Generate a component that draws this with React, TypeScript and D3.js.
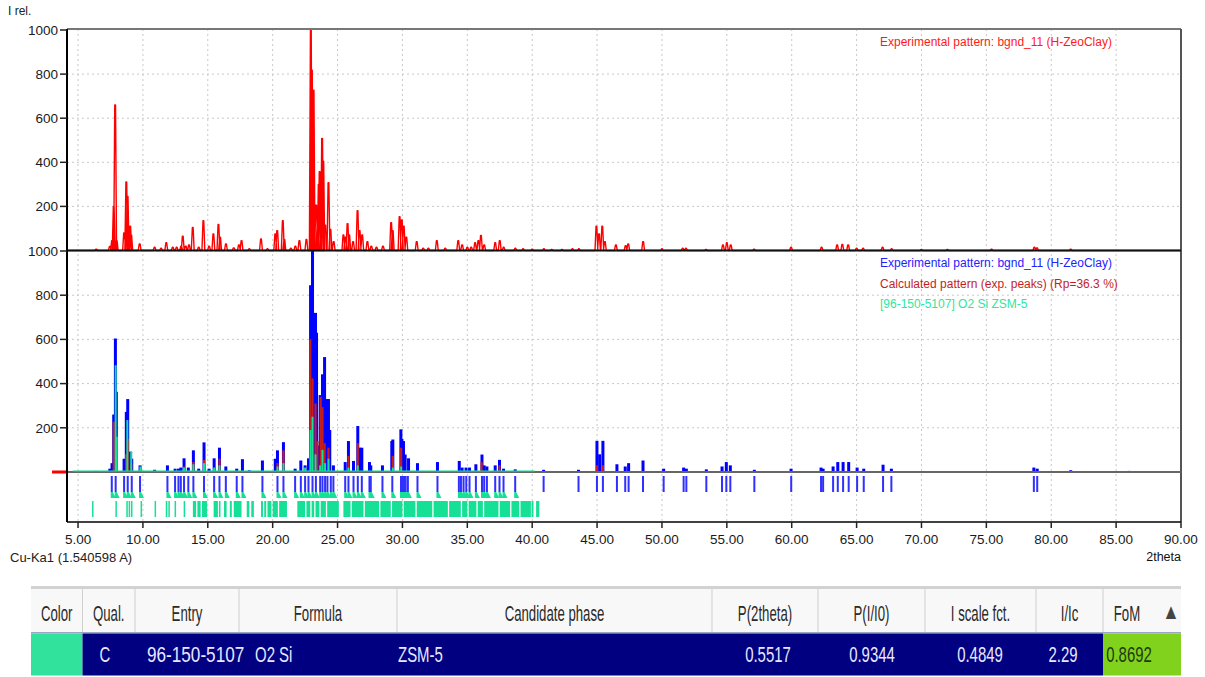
import * as d3 from 'd3';
import { useEffect, useRef } from 'react';

// experimental pattern, top panel [2theta, I rel.]
const expPeaks: [number, number][] = [
  [6.4, 6], [7.45, 18], [7.62, 45], [7.75, 200], [7.86, 660], [7.98, 45],
  [8.55, 80], [8.72, 311], [8.82, 245], [9.02, 110], [9.1, 70], [9.75, 30],
  [10.9, 15], [11.4, 10], [11.8, 35], [12.3, 15], [12.6, 15], [12.95, 20],
  [13.07, 65], [13.3, 20], [13.55, 25], [13.84, 104], [14.3, 15], [14.66, 135],
  [15.1, 20], [15.43, 75], [15.82, 118], [15.95, 60], [16.4, 30], [17.0, 12],
  [17.4, 25], [17.6, 45], [18.2, 8], [19.1, 52], [19.6, 8], [20.2, 75],
  [20.35, 90], [20.78, 135], [20.9, 50], [21.4, 10], [21.75, 20], [22.06, 45],
  [22.6, 50], [22.94, 1000], [23.02, 818], [23.1, 580], [23.15, 727], [23.35, 205],
  [23.45, 110], [23.55, 300], [23.62, 357], [23.81, 508], [23.9, 405], [24.05, 115],
  [24.3, 307], [24.45, 95], [24.7, 40], [25.45, 70], [25.6, 60], [25.77, 122],
  [25.9, 70], [26.2, 40], [26.54, 180], [26.7, 90], [26.9, 70], [27.3, 40],
  [27.6, 20], [28.0, 15], [28.5, 20], [29.13, 126], [29.25, 90], [29.78, 153],
  [29.95, 138], [30.1, 110], [30.3, 60], [31.1, 40], [31.6, 10], [32.0, 10],
  [32.65, 45], [33.3, 10], [34.3, 45], [34.6, 25], [35.0, 15], [35.3, 15],
  [35.6, 35], [35.85, 45], [36.05, 68], [36.3, 25], [37.15, 35], [37.5, 45],
  [37.8, 15], [38.7, 10], [39.3, 8], [40.0, 6], [40.9, 8], [41.5, 5],
  [42.3, 5], [43.1, 8], [43.6, 8], [44.95, 110], [45.15, 75], [45.4, 110],
  [45.6, 40], [46.45, 25], [47.2, 22], [47.4, 30], [48.55, 40], [50.0, 8],
  [51.6, 10], [51.85, 10], [53.4, 5], [54.7, 25], [55.0, 35], [55.3, 25],
  [57.1, 6], [59.95, 15], [62.3, 15], [63.5, 25], [63.9, 28], [64.35, 25],
  [65.0, 10], [65.5, 10], [67.0, 15], [67.7, 8], [70.0, 5], [72.0, 5],
  [75.4, 6], [78.7, 15], [78.9, 12], [81.5, 6],
];

// experimental pattern, bottom panel
const expBottom: [number, number][] = [
  [6.4, 5], [7.45, 15], [7.62, 40], [7.75, 260], [7.88, 604], [7.95, 363],
  [8.55, 60], [8.72, 272], [8.83, 330], [9.05, 92], [9.14, 60], [9.78, 30],
  [10.9, 10], [11.89, 30], [12.48, 15], [12.74, 15], [12.92, 20], [13.17, 62],
  [13.5, 20], [13.89, 98], [14.3, 15], [14.71, 134], [15.1, 15], [15.49, 62],
  [15.9, 110], [16.39, 25], [17.23, 15], [17.67, 58], [18.2, 8], [19.21, 52],
  [20.2, 60], [20.37, 98], [20.83, 135], [21.73, 15], [22.17, 52], [22.5, 30],
  [22.76, 62], [22.92, 845], [23.07, 1000], [23.2, 400], [23.3, 720], [23.38, 630],
  [23.5, 120], [23.66, 348], [23.84, 442], [24.0, 520], [24.1, 140], [24.22, 330],
  [24.3, 330], [24.4, 190], [24.68, 30], [25.59, 45], [25.84, 140], [26.23, 50],
  [26.56, 208], [26.7, 110], [26.87, 110], [27.46, 45], [27.56, 30], [28.46, 30],
  [29.18, 140], [29.26, 147], [29.88, 193], [29.96, 150], [30.08, 140], [30.21, 79],
  [30.47, 62], [31.16, 40], [32.7, 45], [34.38, 50], [34.6, 20], [34.9, 20],
  [35.17, 20], [35.66, 35], [36.13, 79], [36.3, 30], [36.51, 25], [37.15, 30],
  [37.48, 55], [37.79, 15], [38.69, 12], [40.88, 10], [43.57, 10], [44.99, 141],
  [45.2, 80], [45.45, 141], [46.53, 35], [47.17, 25], [47.43, 40], [48.54, 52],
  [50.13, 15], [51.67, 20], [51.88, 15], [53.42, 12], [54.63, 25], [54.96, 45],
  [55.27, 30], [57.12, 10], [59.95, 15], [62.26, 20], [62.42, 15], [63.19, 25],
  [63.55, 45], [63.96, 45], [64.39, 45], [65.04, 20], [65.55, 15], [67.04, 33],
  [67.68, 15], [78.66, 20], [78.92, 15], [81.5, 8], [86.0, 5],
];

// calculated pattern (exp. peaks)
const calcPeaks: [number, number][] = [
  [7.75, 227], [7.95, 40], [8.7, 80], [8.83, 150], [9.1, 35], [13.17, 25],
  [13.89, 45], [14.71, 55], [15.9, 60], [20.37, 40], [20.83, 98], [22.9, 600],
  [23.07, 424], [23.3, 310], [23.45, 140], [23.7, 340], [23.84, 293], [24.0, 130],
  [24.3, 110], [25.84, 73], [26.56, 130], [29.26, 73], [29.9, 110], [36.1, 45],
  [37.48, 30], [45.0, 30], [45.45, 30],
];

// [96-150-5107] O2 Si ZSM-5
const phasePeaks: [number, number][] = [
  [7.9, 483], [7.98, 160], [8.8, 235], [9.1, 92], [9.8, 25], [13.17, 20],
  [13.89, 35], [14.71, 40], [15.49, 20], [15.9, 30], [20.37, 25], [20.83, 40],
  [22.5, 20], [22.92, 190], [23.07, 250], [23.3, 80], [23.66, 30], [23.84, 100],
  [24.04, 40], [24.3, 60], [25.84, 20], [26.56, 30], [29.26, 20], [29.9, 25],
];

// peak positions of the experimental pattern
const peakMarks: number[] = [
  7.6, 7.9, 8.55, 8.83, 9.14, 9.78, 11.89, 12.48, 12.74, 12.92, 13.17, 13.5,
  13.89, 14.71, 15.49, 15.9, 16.39, 17.23, 17.67, 19.21, 20.37, 20.83, 21.73,
  22.17, 22.5, 22.76, 23.07, 23.33, 23.66, 23.84, 24.04, 24.22, 24.48, 24.68,
  25.59, 25.84, 26.23, 26.56, 26.87, 27.46, 27.56, 28.46, 29.22, 29.89, 30.01,
  30.12, 30.25, 30.42, 31.16, 32.7, 34.35, 34.51, 34.71, 34.92, 35.17, 35.66,
  36.13, 36.3, 36.51, 37.15, 37.48, 37.79, 38.69, 40.88, 43.57, 44.99, 45.45,
  46.53, 47.17, 47.43, 48.54, 50.13, 51.67, 51.88, 53.42, 54.63, 54.96, 55.27,
  57.12, 59.96, 62.26, 62.42, 63.19, 63.55, 63.96, 64.39, 65.04, 65.55, 67.04,
  67.68, 78.66, 78.92,
];

// reference lines of ZSM-5, read as blocks [from, to]
const refBands: [number, number][] = [
  [6.08, 6.18], [7.88, 7.98], [8.72, 8.8], [8.9, 9.0], [9.08, 9.16], [9.82, 9.9],
  [10.9, 10.98], [11.76, 11.84], [11.96, 12.06], [12.44, 12.52], [13.14, 13.22],
  [13.85, 14.1], [14.2, 14.45], [14.55, 14.95], [15.45, 15.78], [15.86, 15.98],
  [16.25, 16.45], [16.7, 16.85], [17.0, 17.6], [18.0, 18.2], [18.35, 18.55],
  [19.1, 19.25], [19.35, 19.5], [19.6, 19.9], [20.0, 20.4], [20.5, 21.1],
  [21.9, 22.5], [22.6, 22.9], [23.0, 23.2], [23.3, 23.6], [23.7, 24.1],
  [24.2, 25.1], [25.45, 26.0], [26.1, 27.0], [27.1, 28.2], [28.3, 29.1],
  [29.2, 30.0], [30.1, 31.0], [31.1, 32.3], [32.4, 33.5], [33.6, 34.5],
  [34.6, 35.0], [35.1, 35.7], [35.8, 36.2], [36.3, 37.4], [37.5, 38.3],
  [38.4, 39.0], [39.1, 39.9], [39.95, 40.1], [40.3, 40.55],
];

const xTicks = [5, 10, 15, 20, 25, 30, 35, 40, 45, 50, 55, 60, 65, 70, 75, 80, 85, 90];
const yTicks = [200, 400, 600, 800, 1000];

const legendTop = ['Experimental pattern: bgnd_11 (H-ZeoClay)'];
const legendBottom = [
  'Experimental pattern: bgnd_11 (H-ZeoClay)',
  'Calculated pattern (exp. peaks) (Rp=36.3 %)',
  '[96-150-5107] O2 Si ZSM-5',
];

const tableHeaders = ['Color', 'Qual.', 'Entry', 'Formula', 'Candidate phase', 'P(2theta)', 'P(I/I0)', 'I scale fct.', 'I/Ic', 'FoM'];
const tableRow = ['', 'C', '96-150-5107', 'O2 Si', 'ZSM-5', '0.5517', '0.9344', '0.4849', '2.29', '0.8692'];

const width = 1205;
const height = 677;
const RED = '#ff0000';
const BLUE = '#0000ff';
const CALC = '#c41e1e';
const GREEN = '#16e096';

export default function App() {
  const ref = useRef<HTMLDivElement>(null);

  useEffect(() => {
    if (!ref.current) return;

    const svg = d3
      .create('svg')
      .attr('width', width)
      .attr('height', height)
      .style('position', 'absolute')
      .style('left', '0')
      .style('top', '0')
      .style('font-family', 'Liberation Sans, Arial, sans-serif');

    svg.append('rect').attr('width', width).attr('height', height).attr('fill', '#fff');

    const left = 67;
    const right = 1181;
    const x = d3.scaleLinear().domain([4.15, 90]).range([left, right]);
    const yTop = d3.scaleLinear().domain([0, 1000]).range([250.5, 30]);
    const yBot = d3.scaleLinear().domain([0, 1000]).range([472, 251]);
    const axisY = 522;

    // grid
    const grid = svg.append('g').attr('stroke', '#c8c8c8').attr('stroke-dasharray', '2 3');
    grid
      .selectAll('line.v')
      .data(xTicks.filter((t) => t < 90))
      .join('line')
      .attr('x1', (d) => x(d))
      .attr('x2', (d) => x(d))
      .attr('y1', 29)
      .attr('y2', axisY);
    [yTop, yBot].forEach((y) => {
      grid
        .append('g')
        .selectAll('line')
        .data(yTicks.filter((t) => t < 1000))
        .join('line')
        .attr('x1', left)
        .attr('x2', right)
        .attr('y1', (d) => y(d))
        .attr('y2', (d) => y(d));
    });

    // top panel profile: each peak drawn as a narrow spike
    const spikes = (peaks: [number, number][]) => {
      const pts: [number, number][] = [[4.15, 0]];
      [...peaks].sort((a, b) => a[0] - b[0]).forEach(([p, v]) => {
        pts.push([p - 0.11, 0], [p - 0.03, v], [p + 0.03, v], [p + 0.11, 0]);
      });
      pts.push([90, 0]);
      return pts;
    };
    const lineTop = d3
      .line<[number, number]>()
      .x((d) => x(d[0]))
      .y((d) => yTop(d[1]));
    svg
      .append('path')
      .datum(spikes(expPeaks))
      .attr('fill', 'none')
      .attr('stroke', RED)
      .attr('stroke-width', 1.4)
      .attr('stroke-linejoin', 'round')
      .attr('d', lineTop);

    // bottom panel sticks
    const sticks = (data: [number, number][], color: string, w: number) => {
      svg
        .append('g')
        .selectAll('rect')
        .data(data)
        .join('rect')
        .attr('x', (d) => x(d[0]) - w / 2)
        .attr('width', w)
        .attr('y', (d) => yBot(d[1]))
        .attr('height', (d) => yBot(0) - yBot(d[1]))
        .attr('fill', color);
    };
    sticks(expBottom, BLUE, 3);
    sticks(calcPeaks, CALC, 2.2);
    sticks(phasePeaks, GREEN, 2);

    // panel frame and baselines
    svg.append('line').attr('x1', left).attr('x2', right).attr('y1', 29).attr('y2', 29)
      .attr('stroke', '#777').attr('stroke-width', 2);
    svg.append('line').attr('x1', right).attr('x2', right).attr('y1', 29).attr('y2', axisY)
      .attr('stroke', '#555').attr('stroke-width', 2);
    svg.append('line').attr('x1', left).attr('x2', right).attr('y1', yTop(0)).attr('y2', yTop(0))
      .attr('stroke', '#111').attr('stroke-width', 2);
    svg.append('line').attr('x1', left).attr('x2', right).attr('y1', yBot(0)).attr('y2', yBot(0))
      .attr('stroke', '#666').attr('stroke-width', 2);
    svg.append('line').attr('x1', x(4.6)).attr('x2', x(40.2)).attr('y1', yBot(0) - 1).attr('y2', yBot(0) - 1)
      .attr('stroke', GREEN).attr('stroke-width', 1.5).attr('opacity', 0.7);
    svg.append('rect').attr('x', 52).attr('y', yBot(0) - 1.5).attr('width', left - 52).attr('height', 3)
      .attr('fill', RED);

    // peak position marks
    svg
      .append('g')
      .selectAll('rect')
      .data(peakMarks)
      .join('rect')
      .attr('x', (d) => x(d) - 1)
      .attr('width', 2)
      .attr('y', 476)
      .attr('height', 16)
      .attr('fill', '#3030ff');

    svg
      .append('g')
      .selectAll('path')
      .data(peakMarks.filter((d) => d < 39))
      .join('path')
      .attr('d', (d) => `M${x(d) - 1},498L${x(d) - 1},492L${x(d) + 1},492L${x(d) + 4},498Z`)
      .attr('fill', GREEN);

    svg
      .append('g')
      .selectAll('rect')
      .data(refBands)
      .join('rect')
      .attr('x', (d) => x(d[0]))
      .attr('width', (d) => Math.max(1.5, x(d[1]) - x(d[0])))
      .attr('y', 501)
      .attr('height', 16)
      .attr('fill', GREEN);

    // y axis
    svg.append('line').attr('x1', left).attr('x2', left).attr('y1', 29).attr('y2', axisY)
      .attr('stroke', '#000').attr('stroke-width', 2);
    [yTop, yBot].forEach((y) => {
      const g = svg.append('g');
      g.selectAll('line')
        .data(yTicks)
        .join('line')
        .attr('x1', left - 7)
        .attr('x2', left)
        .attr('y1', (d) => y(d))
        .attr('y2', (d) => y(d))
        .attr('stroke', '#222')
        .attr('stroke-width', 1.5);
      g.selectAll('text')
        .data(yTicks)
        .join('text')
        .attr('x', left - 9)
        .attr('y', (d) => y(d))
        .attr('dy', '0.35em')
        .attr('text-anchor', 'end')
        .attr('font-size', 13.5)
        .attr('fill', '#1a1a1a')
        .text((d) => d);
    });
    svg.append('text').attr('x', 8).attr('y', 15).attr('font-size', 12).attr('fill', '#222').text('I rel.');

    // x axis
    svg.append('line').attr('x1', left).attr('x2', right).attr('y1', axisY).attr('y2', axisY)
      .attr('stroke', '#000').attr('stroke-width', 1.5);
    const xg = svg.append('g');
    xg.selectAll('line')
      .data(xTicks)
      .join('line')
      .attr('x1', (d) => x(d))
      .attr('x2', (d) => x(d))
      .attr('y1', axisY)
      .attr('y2', axisY + 6)
      .attr('stroke', '#222')
      .attr('stroke-width', 1.5);
    xg.selectAll('text')
      .data(xTicks)
      .join('text')
      .attr('x', (d) => x(d))
      .attr('y', 539)
      .attr('dy', '0.35em')
      .attr('text-anchor', 'middle')
      .attr('font-size', 13.5)
      .attr('fill', '#1a1a1a')
      .text((d) => d3.format('.2f')(d));
    svg.append('text').attr('x', 10).attr('y', 557).attr('dy', '0.35em').attr('font-size', 13)
      .attr('fill', '#222').text('Cu-Ka1 (1.540598 A)');
    svg.append('text').attr('x', right).attr('y', 557).attr('dy', '0.35em').attr('font-size', 12.5)
      .attr('text-anchor', 'end').attr('fill', '#111').text('2theta');

    // legends
    svg.append('g')
      .selectAll('text')
      .data(legendTop)
      .join('text')
      .attr('x', 880)
      .attr('y', 42)
      .attr('dy', '0.35em')
      .attr('font-size', 12)
      .attr('fill', '#ff1a1a')
      .text((d) => d);
    const legendColors = ['#2222ff', CALC, '#2ee6a0'];
    svg.append('g')
      .selectAll('text')
      .data(legendBottom)
      .join('text')
      .attr('x', 880)
      .attr('y', (_, i) => 263 + i * 20.5)
      .attr('dy', '0.35em')
      .attr('font-size', 12)
      .attr('fill', (_, i) => legendColors[i])
      .text((d) => d);

    // candidate table
    const cols = [31, 82.5, 135, 239, 397, 712, 818, 925, 1036, 1103, 1181];
    const table = svg.append('g');
    table.append('rect').attr('x', cols[0]).attr('y', 586).attr('width', cols[10] - cols[0]).attr('height', 3)
      .attr('fill', '#d2d2d2');
    table.append('rect').attr('x', cols[0]).attr('y', 589).attr('width', cols[10] - cols[0]).attr('height', 44)
      .attr('fill', '#f8f8f8');
    table.append('rect').attr('x', cols[0]).attr('y', 632).attr('width', cols[10] - cols[0]).attr('height', 1.5)
      .attr('fill', '#9aa6c4');
    table.selectAll('line.sep')
      .data(cols.slice(1, 10))
      .join('line')
      .attr('x1', (d) => d)
      .attr('x2', (d) => d)
      .attr('y1', 589)
      .attr('y2', 632)
      .attr('stroke', '#cfcfcf');
    table.append('rect').attr('x', cols[0]).attr('y', 633.5).attr('width', cols[1] - cols[0]).attr('height', 42)
      .attr('fill', '#30e29c');
    table.append('rect').attr('x', cols[1]).attr('y', 633.5).attr('width', cols[9] - cols[1]).attr('height', 42)
      .attr('fill', '#000080');
    table.append('rect').attr('x', cols[9]).attr('y', 633.5).attr('width', cols[10] - cols[9]).attr('height', 42)
      .attr('fill', '#80d21c');

    // the grid text is a tall, narrow face: squeeze a sans horizontally
    const condensed = (t: string, cx: number, cy: number, color: string, anchor: string, sx: number, weight = 'normal') => {
      table.append('g')
        .attr('transform', `translate(${cx},${cy}) scale(${sx},1)`)
        .append('text')
        .attr('text-anchor', anchor)
        .attr('dy', '0.35em')
        .attr('font-size', 22)
        .attr('font-weight', weight)
        .attr('fill', color)
        .text(t);
    };
    tableHeaders.forEach((h, i) => {
      const cx = i === 9 ? 1127 : (cols[i] + cols[i + 1]) / 2;
      condensed(h, cx, 613, '#2a2a2a', 'middle', 0.6);
    });
    condensed('\u25B2', 1171, 611, '#444', 'middle', 0.8);
    const rowX = [56, 105, 147, 255, 398, 768, 872, 980, 1063, 1129];
    tableRow.forEach((v, i) => {
      if (!v) return;
      const anchor = i === 2 || i === 3 || i === 4 ? 'start' : 'middle';
      const color = i === 9 ? '#1d3a10' : '#e8e8ff';
      condensed(v, rowX[i], 654, color, anchor, i === 2 ? 0.78 : 0.68);
    });

    ref.current.innerHTML = '';
    ref.current.appendChild(svg.node()!);
  }, [ref]);

  return <div ref={ref} />;
}
